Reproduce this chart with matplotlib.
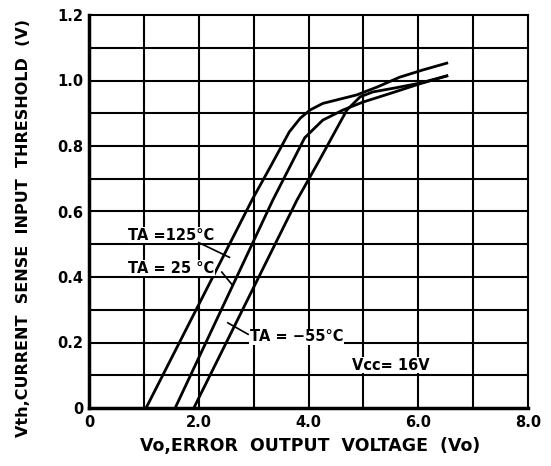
import matplotlib
matplotlib.use("Agg")
import matplotlib.pyplot as plt

# --- dane ---
vo_125 = [1.04, 2.97, 3.3, 3.65, 3.85, 4.03, 4.26, 4.88, 5.25, 5.66, 6.08, 6.52]
vth_125 = [0.0, 0.635, 0.735, 0.843, 0.885, 0.91, 0.93, 0.956, 0.98, 1.01, 1.032, 1.053]

vo_25 = [1.57, 3.35, 3.93, 4.26, 4.63, 4.99, 5.48, 6.03, 6.52]
vth_25 = [0.0, 0.635, 0.825, 0.879, 0.91, 0.934, 0.96, 0.99, 1.014]

vo_m55 = [1.91, 3.79, 4.2, 4.5, 4.7, 4.94, 5.17, 5.6, 6.03, 6.52]
vth_m55 = [0.0, 0.635, 0.757, 0.849, 0.91, 0.95, 0.965, 0.978, 0.992, 1.014]

x_ticks = [0, 2, 4, 6, 8]
x_labels = ["0", "2.0", "4.0", "6.0", "8.0"]
y_ticks = [0, 0.2, 0.4, 0.6, 0.8, 1.0, 1.2]
y_labels = ["0", "0.2", "0.4", "0.6", "0.8", "1.0", "1.2"]

fig = plt.figure(figsize=(5.51, 4.66), dpi=100)
ax = fig.add_axes([89 / 551, 1 - 408 / 466, (528 - 89) / 551, (408 - 15) / 466])

# siatka co 1 V i co 0.1 V
for gx in range(1, 8):
    ax.axvline(gx, color="black", lw=1.5, zorder=1)
for i in range(1, 12):
    ax.axhline(i * 0.1, color="black", lw=1.5, zorder=1)

ax.plot(vo_125, vth_125, color="black", lw=2.0, zorder=3)
ax.plot(vo_25, vth_25, color="black", lw=2.0, zorder=3)
ax.plot(vo_m55, vth_m55, color="black", lw=2.0, zorder=3)

ax.set_xlim(0, 8)
ax.set_ylim(0, 1.2)
ax.set_xticks(x_ticks)
ax.set_xticklabels(x_labels)
ax.set_yticks(y_ticks)
ax.set_yticklabels(y_labels)
ax.tick_params(length=0, labelsize=10.5, pad=4)
ax.tick_params(axis="x", pad=5)
for lab in ax.get_xticklabels() + ax.get_yticklabels():
    lab.set_fontweight("bold")

for side in ["top", "right"]:
    ax.spines[side].set_linewidth(1.5)
for side in ["left", "bottom"]:
    ax.spines[side].set_linewidth(2.5)

# opisy krzywych (białe tło przerywa siatkę jak w oryginale)
box = dict(facecolor="white", edgecolor="none", pad=0.5)
txt = dict(fontsize=10.5, fontweight="bold", va="center", ha="left", zorder=4, bbox=box)
ax.text(0.71, 0.528, "TA =125°C", **txt)
ax.text(0.71, 0.427, "TA = 25 °C", **txt)
ax.text(2.93, 0.217, "TA = \u221255°C", **txt)
ax.text(4.8, 0.131, "Vcc= 16V", **txt)

ax.plot([2.0, 2.56], [0.505, 0.46], color="black", lw=1.2, zorder=5)
ax.plot([2.42, 2.6], [0.415, 0.378], color="black", lw=1.2, zorder=5)
ax.plot([2.53, 2.9], [0.26, 0.225], color="black", lw=1.2, zorder=5)

fig.text(310 / 551, 1 - 446 / 466, "Vo,ERROR  OUTPUT  VOLTAGE  (Vo)",
         fontsize=12.5, fontweight="bold", ha="center", va="center")
fig.text(24 / 551, 1 - 228 / 466, "Vth,CURRENT  SENSE  INPUT  THRESHOLD  (V)",
         fontsize=11.5, fontweight="bold", ha="center", va="center", rotation=90)

fig.savefig("out.png", dpi=100)
